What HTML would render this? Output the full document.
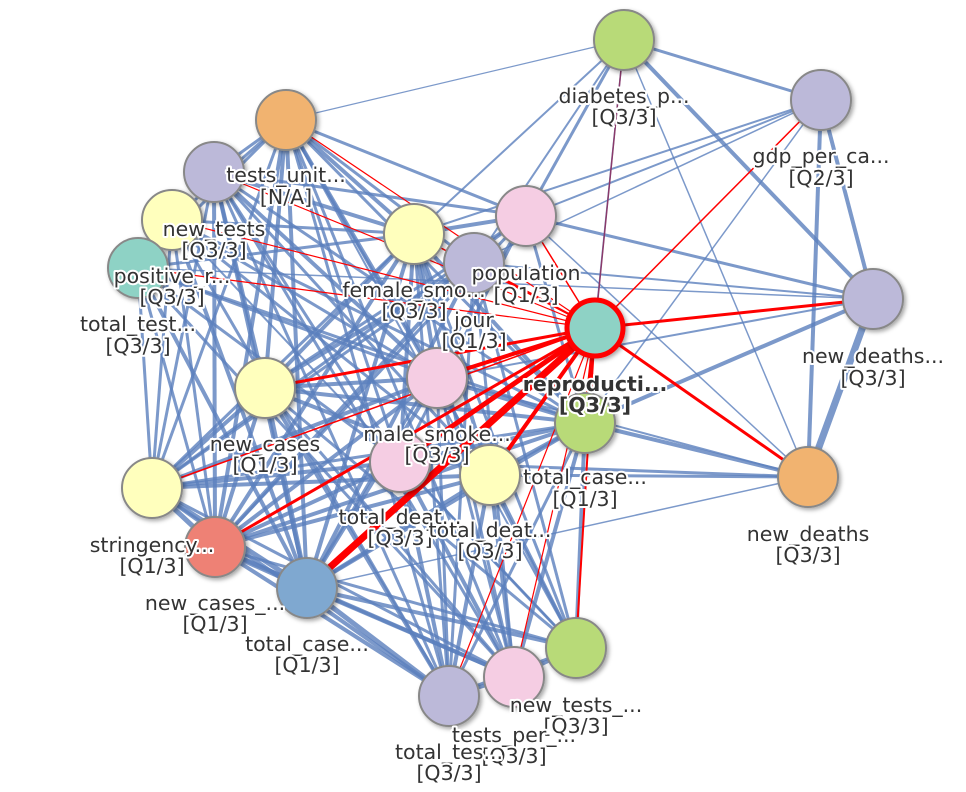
<!DOCTYPE html>
<html><head><meta charset="utf-8"><style>
html,body{margin:0;padding:0;background:#fff;}
svg{display:block;}
text{font-family:"DejaVu Sans","Liberation Sans",sans-serif;font-size:20.5px;fill:#333;text-anchor:middle;paint-order:stroke;stroke:#fff;stroke-width:4px;stroke-linejoin:round;}
.b{stroke:#5b7fbd;stroke-opacity:.8;fill:none}
.r{stroke:#f00;fill:none}
</style></head><body>
<svg width="966" height="792" viewBox="0 0 966 792">
<defs><filter id="sh" x="-30%" y="-30%" width="160%" height="160%"><feDropShadow dx="2" dy="2" stdDeviation="2" flood-opacity=".35"/></filter></defs>
<g class="b" stroke-width="2">
<line x1="624" y1="40" x2="821" y2="100" stroke-width="3"/>
<line x1="624" y1="40" x2="286" y2="120" stroke-width="1.2"/>
<line x1="624" y1="40" x2="526" y2="216" stroke-width="3"/>
<line x1="624" y1="40" x2="873" y2="299" stroke-width="4"/>
<line x1="624" y1="40" x2="808" y2="477" stroke-width="1.5"/>
<line x1="624" y1="40" x2="585" y2="423" stroke-width="1.5"/>
<line x1="624" y1="40" x2="414" y2="234" stroke-width="2"/>
<line x1="624" y1="40" x2="474" y2="263" stroke-width="2"/>
<line x1="821" y1="100" x2="414" y2="234" stroke-width="2"/>
<line x1="821" y1="100" x2="526" y2="216" stroke-width="2"/>
<line x1="821" y1="100" x2="474" y2="263" stroke-width="1.5"/>
<line x1="821" y1="100" x2="873" y2="299" stroke-width="4"/>
<line x1="821" y1="100" x2="808" y2="477" stroke-width="4"/>
<line x1="821" y1="100" x2="585" y2="423" stroke-width="1.5"/>
<line x1="873" y1="299" x2="808" y2="477" stroke-width="7"/>
<line x1="873" y1="299" x2="585" y2="423" stroke-width="4"/>
<line x1="873" y1="299" x2="526" y2="216" stroke-width="3"/>
<line x1="873" y1="299" x2="474" y2="263" stroke-width="2"/>
<line x1="873" y1="299" x2="437" y2="378" stroke-width="2"/>
<line x1="808" y1="477" x2="585" y2="423" stroke-width="4"/>
<line x1="808" y1="477" x2="490" y2="475" stroke-width="3"/>
<line x1="808" y1="477" x2="400" y2="462" stroke-width="3"/>
<line x1="808" y1="477" x2="307" y2="588" stroke-width="1.5"/>
<line x1="808" y1="477" x2="526" y2="216" stroke-width="1.5"/>
<line x1="808" y1="477" x2="437" y2="378" stroke-width="2"/>
<line x1="286" y1="120" x2="214" y2="172" stroke-width="3"/>
<line x1="286" y1="120" x2="172" y2="220" stroke-width="3"/>
<line x1="286" y1="120" x2="138" y2="268" stroke-width="3"/>
<line x1="286" y1="120" x2="414" y2="234" stroke-width="4"/>
<line x1="286" y1="120" x2="474" y2="263" stroke-width="3"/>
<line x1="286" y1="120" x2="526" y2="216" stroke-width="3"/>
<line x1="286" y1="120" x2="265" y2="388" stroke-width="4"/>
<line x1="286" y1="120" x2="437" y2="378" stroke-width="4"/>
<line x1="286" y1="120" x2="400" y2="462" stroke-width="3"/>
<line x1="286" y1="120" x2="490" y2="475" stroke-width="3"/>
<line x1="286" y1="120" x2="152" y2="488" stroke-width="3"/>
<line x1="286" y1="120" x2="215" y2="547" stroke-width="4"/>
<line x1="286" y1="120" x2="307" y2="588" stroke-width="4"/>
<line x1="286" y1="120" x2="449" y2="696" stroke-width="3"/>
<line x1="286" y1="120" x2="514" y2="677" stroke-width="3"/>
<line x1="286" y1="120" x2="576" y2="648" stroke-width="2"/>
<line x1="286" y1="120" x2="585" y2="423" stroke-width="3"/>
<line x1="214" y1="172" x2="414" y2="234" stroke-width="4"/>
<line x1="214" y1="172" x2="526" y2="216" stroke-width="3"/>
<line x1="214" y1="172" x2="437" y2="378" stroke-width="4"/>
<line x1="214" y1="172" x2="265" y2="388" stroke-width="4"/>
<line x1="214" y1="172" x2="152" y2="488" stroke-width="3"/>
<line x1="214" y1="172" x2="215" y2="547" stroke-width="4"/>
<line x1="214" y1="172" x2="307" y2="588" stroke-width="4"/>
<line x1="214" y1="172" x2="400" y2="462" stroke-width="3"/>
<line x1="214" y1="172" x2="490" y2="475" stroke-width="3"/>
<line x1="214" y1="172" x2="449" y2="696" stroke-width="3"/>
<line x1="214" y1="172" x2="514" y2="677" stroke-width="3"/>
<line x1="214" y1="172" x2="585" y2="423" stroke-width="3"/>
<line x1="172" y1="220" x2="414" y2="234" stroke-width="3"/>
<line x1="172" y1="220" x2="437" y2="378" stroke-width="3"/>
<line x1="172" y1="220" x2="307" y2="588" stroke-width="4"/>
<line x1="172" y1="220" x2="215" y2="547" stroke-width="3"/>
<line x1="172" y1="220" x2="490" y2="475" stroke-width="3"/>
<line x1="172" y1="220" x2="449" y2="696" stroke-width="3"/>
<line x1="172" y1="220" x2="576" y2="648" stroke-width="2"/>
<line x1="172" y1="220" x2="585" y2="423" stroke-width="3"/>
<line x1="172" y1="220" x2="152" y2="488" stroke-width="3"/>
<line x1="138" y1="268" x2="414" y2="234" stroke-width="3"/>
<line x1="138" y1="268" x2="437" y2="378" stroke-width="3"/>
<line x1="138" y1="268" x2="307" y2="588" stroke-width="4"/>
<line x1="138" y1="268" x2="215" y2="547" stroke-width="3"/>
<line x1="138" y1="268" x2="152" y2="488" stroke-width="3"/>
<line x1="138" y1="268" x2="400" y2="462" stroke-width="3"/>
<line x1="138" y1="268" x2="514" y2="677" stroke-width="3"/>
<line x1="138" y1="268" x2="585" y2="423" stroke-width="3"/>
<line x1="138" y1="268" x2="873" y2="299" stroke-width="1.5"/>
<line x1="414" y1="234" x2="265" y2="388" stroke-width="4"/>
<line x1="414" y1="234" x2="437" y2="378" stroke-width="4"/>
<line x1="414" y1="234" x2="400" y2="462" stroke-width="4"/>
<line x1="414" y1="234" x2="490" y2="475" stroke-width="4"/>
<line x1="414" y1="234" x2="307" y2="588" stroke-width="4"/>
<line x1="414" y1="234" x2="215" y2="547" stroke-width="4"/>
<line x1="414" y1="234" x2="152" y2="488" stroke-width="3"/>
<line x1="414" y1="234" x2="449" y2="696" stroke-width="3"/>
<line x1="414" y1="234" x2="514" y2="677" stroke-width="3"/>
<line x1="414" y1="234" x2="576" y2="648" stroke-width="3"/>
<line x1="414" y1="234" x2="585" y2="423" stroke-width="4"/>
<line x1="414" y1="234" x2="526" y2="216" stroke-width="4"/>
<line x1="526" y1="216" x2="265" y2="388" stroke-width="3"/>
<line x1="526" y1="216" x2="307" y2="588" stroke-width="3"/>
<line x1="526" y1="216" x2="215" y2="547" stroke-width="3"/>
<line x1="526" y1="216" x2="152" y2="488" stroke-width="3"/>
<line x1="526" y1="216" x2="400" y2="462" stroke-width="3"/>
<line x1="526" y1="216" x2="585" y2="423" stroke-width="3"/>
<line x1="474" y1="263" x2="265" y2="388" stroke-width="4"/>
<line x1="474" y1="263" x2="307" y2="588" stroke-width="4"/>
<line x1="474" y1="263" x2="215" y2="547" stroke-width="4"/>
<line x1="474" y1="263" x2="152" y2="488" stroke-width="3"/>
<line x1="474" y1="263" x2="449" y2="696" stroke-width="3"/>
<line x1="474" y1="263" x2="514" y2="677" stroke-width="3"/>
<line x1="474" y1="263" x2="576" y2="648" stroke-width="3"/>
<line x1="265" y1="388" x2="437" y2="378" stroke-width="4"/>
<line x1="265" y1="388" x2="307" y2="588" stroke-width="5"/>
<line x1="265" y1="388" x2="215" y2="547" stroke-width="4"/>
<line x1="265" y1="388" x2="152" y2="488" stroke-width="4"/>
<line x1="265" y1="388" x2="449" y2="696" stroke-width="4"/>
<line x1="265" y1="388" x2="514" y2="677" stroke-width="3"/>
<line x1="265" y1="388" x2="576" y2="648" stroke-width="3"/>
<line x1="265" y1="388" x2="585" y2="423" stroke-width="4"/>
<line x1="265" y1="388" x2="490" y2="475" stroke-width="4"/>
<line x1="437" y1="378" x2="152" y2="488" stroke-width="4"/>
<line x1="437" y1="378" x2="215" y2="547" stroke-width="4"/>
<line x1="437" y1="378" x2="307" y2="588" stroke-width="4"/>
<line x1="437" y1="378" x2="449" y2="696" stroke-width="3"/>
<line x1="437" y1="378" x2="514" y2="677" stroke-width="3"/>
<line x1="437" y1="378" x2="576" y2="648" stroke-width="3"/>
<line x1="437" y1="378" x2="585" y2="423" stroke-width="4"/>
<line x1="400" y1="462" x2="152" y2="488" stroke-width="4"/>
<line x1="400" y1="462" x2="215" y2="547" stroke-width="4"/>
<line x1="400" y1="462" x2="449" y2="696" stroke-width="4"/>
<line x1="400" y1="462" x2="514" y2="677" stroke-width="4"/>
<line x1="400" y1="462" x2="576" y2="648" stroke-width="3"/>
<line x1="400" y1="462" x2="585" y2="423" stroke-width="4"/>
<line x1="490" y1="475" x2="152" y2="488" stroke-width="4"/>
<line x1="490" y1="475" x2="215" y2="547" stroke-width="4"/>
<line x1="490" y1="475" x2="307" y2="588" stroke-width="4"/>
<line x1="490" y1="475" x2="449" y2="696" stroke-width="4"/>
<line x1="490" y1="475" x2="514" y2="677" stroke-width="4"/>
<line x1="490" y1="475" x2="576" y2="648" stroke-width="3"/>
<line x1="490" y1="475" x2="585" y2="423" stroke-width="4"/>
<line x1="152" y1="488" x2="215" y2="547" stroke-width="5"/>
<line x1="152" y1="488" x2="307" y2="588" stroke-width="5"/>
<line x1="152" y1="488" x2="449" y2="696" stroke-width="4"/>
<line x1="152" y1="488" x2="514" y2="677" stroke-width="3"/>
<line x1="152" y1="488" x2="585" y2="423" stroke-width="3"/>
<line x1="215" y1="547" x2="307" y2="588" stroke-width="6"/>
<line x1="215" y1="547" x2="449" y2="696" stroke-width="4"/>
<line x1="215" y1="547" x2="514" y2="677" stroke-width="4"/>
<line x1="215" y1="547" x2="576" y2="648" stroke-width="3"/>
<line x1="215" y1="547" x2="585" y2="423" stroke-width="4"/>
<line x1="307" y1="588" x2="449" y2="696" stroke-width="5"/>
<line x1="307" y1="588" x2="514" y2="677" stroke-width="4"/>
<line x1="307" y1="588" x2="576" y2="648" stroke-width="4"/>
<line x1="307" y1="588" x2="585" y2="423" stroke-width="4"/>
<line x1="449" y1="696" x2="514" y2="677" stroke-width="4"/>
<line x1="449" y1="696" x2="576" y2="648" stroke-width="3"/>
<line x1="449" y1="696" x2="585" y2="423" stroke-width="3"/>
<line x1="514" y1="677" x2="576" y2="648" stroke-width="4"/>
<line x1="514" y1="677" x2="585" y2="423" stroke-width="4"/>
<line x1="576" y1="648" x2="585" y2="423" stroke-width="4"/>
</g>
<g class="r">
<line x1="595" y1="328" x2="624" y2="40" stroke="#8a3a6a" stroke-width="1.5"/>
<line x1="595" y1="328" x2="821" y2="100" stroke-width="1.5"/>
<line x1="595" y1="328" x2="873" y2="299" stroke-width="3"/>
<line x1="595" y1="328" x2="808" y2="477" stroke-width="3"/>
<line x1="595" y1="328" x2="286" y2="120" stroke-width="1.2"/>
<line x1="595" y1="328" x2="214" y2="172" stroke-width="1.2"/>
<line x1="595" y1="328" x2="172" y2="220" stroke-width="1.2"/>
<line x1="595" y1="328" x2="138" y2="268" stroke-width="1.2"/>
<line x1="595" y1="328" x2="414" y2="234" stroke-width="1.5"/>
<line x1="595" y1="328" x2="526" y2="216" stroke-width="1.5"/>
<line x1="595" y1="328" x2="474" y2="263" stroke-width="2"/>
<line x1="595" y1="328" x2="265" y2="388" stroke-width="3"/>
<line x1="595" y1="328" x2="437" y2="378" stroke-width="4"/>
<line x1="595" y1="328" x2="585" y2="423" stroke-width="4"/>
<line x1="595" y1="328" x2="400" y2="462" stroke-width="5"/>
<line x1="595" y1="328" x2="490" y2="475" stroke-width="4"/>
<line x1="595" y1="328" x2="152" y2="488" stroke-width="1.5"/>
<line x1="595" y1="328" x2="215" y2="547" stroke-width="3"/>
<line x1="595" y1="328" x2="307" y2="588" stroke-width="7"/>
<line x1="595" y1="328" x2="449" y2="696" stroke-width="1.2"/>
<line x1="595" y1="328" x2="514" y2="677" stroke-width="1.2"/>
<line x1="595" y1="328" x2="576" y2="648" stroke-width="2"/>
</g>
<g filter="url(#sh)" stroke="#888" stroke-width="2">
<circle cx="624" cy="40" r="30" fill="#b8da78"/>
<circle cx="821" cy="100" r="30" fill="#bcb9d9"/>
<circle cx="286" cy="120" r="30" fill="#f1b36f"/>
<circle cx="214" cy="172" r="30" fill="#bcb9d9"/>
<circle cx="172" cy="220" r="30" fill="#ffffbd"/>
<circle cx="138" cy="268" r="30" fill="#8ed2c5"/>
<circle cx="414" cy="234" r="30" fill="#ffffbd"/>
<circle cx="526" cy="216" r="30" fill="#f5cde3"/>
<circle cx="474" cy="263" r="30" fill="#bcb9d9"/>
<circle cx="873" cy="299" r="30" fill="#bcb9d9"/>
<circle cx="265" cy="388" r="30" fill="#ffffbd"/>
<circle cx="437" cy="378" r="30" fill="#f5cde3"/>
<circle cx="585" cy="423" r="30" fill="#b8da78"/>
<circle cx="400" cy="462" r="30" fill="#f5cde3"/>
<circle cx="490" cy="475" r="30" fill="#ffffbd"/>
<circle cx="808" cy="477" r="30" fill="#f1b36f"/>
<circle cx="152" cy="488" r="30" fill="#ffffbd"/>
<circle cx="215" cy="547" r="30" fill="#ee8174"/>
<circle cx="307" cy="588" r="30" fill="#7fa8d0"/>
<circle cx="576" cy="648" r="30" fill="#b8da78"/>
<circle cx="514" cy="677" r="30" fill="#f5cde3"/>
<circle cx="449" cy="696" r="30" fill="#bcb9d9"/>
<circle cx="595" cy="328" r="28" fill="#8ed2c5" style="stroke:#f00;stroke-width:5"/>
</g>
<g>
<text x="624" y="103">diabetes_p...</text><text x="624" y="124">[Q3/3]</text>
<text x="821" y="163">gdp_per_ca...</text><text x="821" y="185">[Q2/3]</text>
<text x="286" y="182">tests_unit...</text><text x="286" y="204">[N/A]</text>
<text x="214" y="236">new_tests</text><text x="214" y="257">[Q3/3]</text>
<text x="172" y="283">positive_r...</text><text x="172" y="304">[Q3/3]</text>
<text x="138" y="331">total_test...</text><text x="138" y="353">[Q3/3]</text>
<text x="414" y="297">female_smo...</text><text x="414" y="318">[Q3/3]</text>
<text x="526" y="280">population</text><text x="526" y="302">[Q1/3]</text>
<text x="474" y="327">jour</text><text x="474" y="348">[Q1/3]</text>
<text x="595" y="391" style="font-weight:bold">reproducti...</text><text x="595" y="412" style="font-weight:bold">[Q3/3]</text>
<text x="873" y="363">new_deaths...</text><text x="873" y="385">[Q3/3]</text>
<text x="265" y="451">new_cases</text><text x="265" y="472">[Q1/3]</text>
<text x="437" y="441">male_smoke...</text><text x="437" y="462">[Q3/3]</text>
<text x="585" y="484">total_case...</text><text x="585" y="506">[Q1/3]</text>
<text x="400" y="524">total_deat...</text><text x="400" y="545">[Q3/3]</text>
<text x="490" y="537">total_deat...</text><text x="490" y="558">[Q3/3]</text>
<text x="808" y="541">new_deaths</text><text x="808" y="562">[Q3/3]</text>
<text x="152" y="552">stringency...</text><text x="152" y="573">[Q1/3]</text>
<text x="215" y="610">new_cases_...</text><text x="215" y="631">[Q1/3]</text>
<text x="307" y="651">total_case...</text><text x="307" y="672">[Q1/3]</text>
<text x="576" y="712">new_tests_...</text><text x="576" y="733">[Q3/3]</text>
<text x="514" y="742">tests_per_...</text><text x="514" y="763">[Q3/3]</text>
<text x="449" y="759">total_tes...</text><text x="449" y="780">[Q3/3]</text>
</g>
</svg>
</body></html>
